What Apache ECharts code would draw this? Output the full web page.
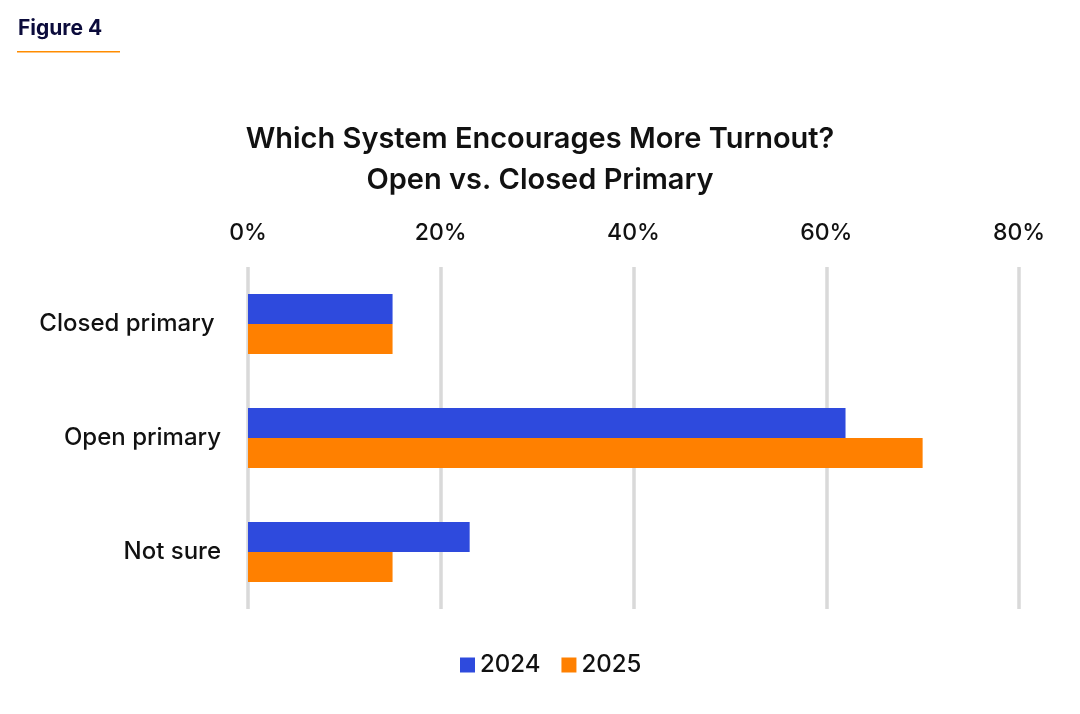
<!DOCTYPE html>
<html>
<head>
<meta charset="utf-8">
<script src="https://cdn.jsdelivr.net/npm/echarts@6/dist/echarts.min.js"></script>
<style>
html,body{margin:0;padding:0;background:#fff;}
#chart{width:1080px;height:714px;}
</style>
</head>
<body>
<div id="chart"></div>
<script>
const categories = ["Closed primary ", "Open primary", "Not sure"];
const values2024 = [15, 62, 23];
const values2025 = [15, 70, 15];
const seriesNames = ["2024", "2025"];
const xTicks = [0, 20, 40, 60, 80];

const chart = echarts.init(document.getElementById('chart'));
const font = "Inter, 'Libre Franklin', Roboto, sans-serif";
chart.setOption({
  backgroundColor: '#ffffff',
  animation: false,
  textStyle: {fontFamily: font},
  title: {
    text: "Which System Encourages More Turnout?\nOpen vs. Closed Primary",
    left: 'center',
    top: 114,
    textStyle: {fontFamily: font, fontSize: 29, fontWeight: 600, color: '#111111', lineHeight: 41}
  },
  graphic: [
    {type: 'text', left: 18, top: 18, style: {text: 'Figure 4', fontFamily: font, fontSize: 21, fontWeight: 'bold', fill: '#0b0b3b'}},
    {type: 'rect', shape: {x: 17, y: 51, width: 103, height: 1.5}, style: {fill: '#ff8c00'}}
  ],
  legend: {
    data: seriesNames,
    bottom: 32,
    left: 455,
    itemWidth: 15,
    itemHeight: 15,
    itemGap: 21,
    icon: 'rect',
    textStyle: {fontFamily: font, fontSize: 24, fontWeight: 500, color: '#111111'}
  },
  grid: {left: 248, right: 61, top: 267, bottom: 105, containLabel: false},
  xAxis: {
    type: 'value',
    position: 'top',
    min: 0, max: 80, interval: 20,
    axisLabel: {formatter: '{value}%', fontSize: 23, fontWeight: 500, color: '#111111', margin: 22, fontFamily: font},
    axisLine: {show: false},
    axisTick: {show: false},
    splitLine: {lineStyle: {color: '#d9d9d9', width: 3.5}}
  },
  yAxis: {
    type: 'category',
    data: categories,
    inverse: true,
    axisLine: {show: false},
    axisTick: {show: false},
    axisLabel: {fontSize: 24, color: '#111111', margin: 27, fontFamily: font, fontWeight: 500}
  },
  series: [
    {name: seriesNames[0], type: 'bar', data: values2024, barWidth: 30, barGap: '0%', itemStyle: {color: '#2e4add'}},
    {name: seriesNames[1], type: 'bar', data: values2025, barWidth: 30, barGap: '0%', itemStyle: {color: '#ff8000'}}
  ]
});
</script>
</body>
</html>
